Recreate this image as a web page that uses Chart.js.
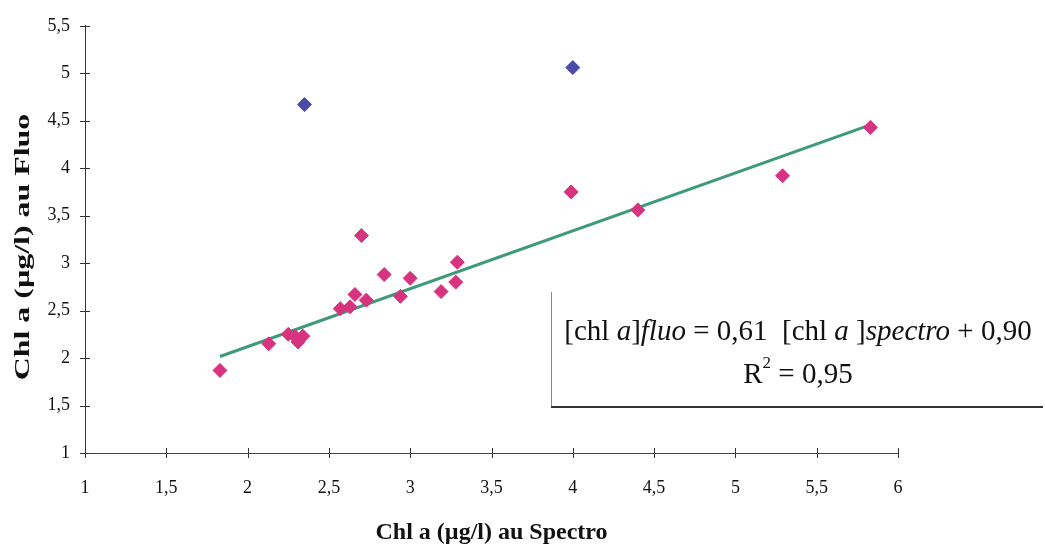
<!DOCTYPE html>
<html>
<head>
<meta charset="utf-8">
<script src="https://cdn.jsdelivr.net/npm/chart.js@4.4.1/dist/chart.umd.min.js"></script>
<style>
  html, body { margin: 0; padding: 0; background: #fff; }
  #wrap { width: 1045px; height: 551px; }
</style>
</head>
<body>
<div id="wrap"><canvas id="myChart" width="1045" height="551"></canvas></div>
<script>
// Chl a measured by spectrophotometry (x) vs fluorimetry (y)
let spectroX = [1.83, 2.13, 2.25, 2.29, 2.31, 2.34, 2.70, 2.84, 2.66, 2.73, 2.63, 2.57, 2.94, 3.00, 3.19, 3.28, 3.29, 3.99, 4.40, 5.29, 5.83];
let fluoY    = [1.87, 2.15, 2.25, 2.23, 2.17, 2.23, 3.29, 2.88, 2.67, 2.61, 2.54, 2.52, 2.65, 2.84, 2.70, 2.80, 3.01, 3.75, 3.56, 3.92, 4.43];
// two samples left out of the regression
let outlierX = [2.35, 4.00];
let outlierY = [4.67, 5.06];
// fit: [chl a]fluo = 0,61 [chl a]spectro + 0,90
let slope = 0.61;
let intercept = 0.90;
let rSquared = 0.95;
let fitRange = [1.83, 5.83];
let xTicks = [1, 1.5, 2, 2.5, 3, 3.5, 4, 4.5, 5, 5.5, 6];
let yTicks = [1, 1.5, 2, 2.5, 3, 3.5, 4, 4.5, 5, 5.5];

const pts = (xs, ys) => xs.map((x, i) => ({x: x, y: ys[i]}));
const fmt = v => String(v).replace('.', ',');
const serif = '"Liberation Serif", "DejaVu Serif", serif';

// crossing tick marks, stretched y title, equation box
const extras = {
  id: 'extras',
  afterDraw(chart) {
    const ctx = chart.ctx;
    const xs = chart.scales.x, ys = chart.scales.y;
    const a = chart.chartArea;
    ctx.save();
    ctx.strokeStyle = '#333';
    ctx.lineWidth = 1;
    xTicks.forEach(v => {
      const px = Math.round(xs.getPixelForValue(v)) + 0.5;
      ctx.beginPath(); ctx.moveTo(px, a.bottom - 5); ctx.lineTo(px, a.bottom + 5); ctx.stroke();
    });
    yTicks.forEach(v => {
      const py = Math.round(ys.getPixelForValue(v)) + 0.5;
      ctx.beginPath(); ctx.moveTo(a.left - 5, py); ctx.lineTo(a.left + 5, py); ctx.stroke();
    });

    // y axis title
    ctx.save();
    ctx.translate(23, 247);
    ctx.rotate(-Math.PI / 2);
    ctx.scale(1.45, 1);
    ctx.font = 'bold 22px ' + serif;
    ctx.fillStyle = '#111';
    ctx.textAlign = 'center';
    ctx.textBaseline = 'middle';
    ctx.fillText('Chl a (µg/l) au Fluo', 0, 0);
    ctx.restore();

    // equation box
    const bx = 551, by = 292, bw = 492, bh = 115;
    ctx.fillStyle = '#fff';
    ctx.fillRect(bx, by, bw, bh);
    ctx.strokeStyle = '#888';
    ctx.lineWidth = 1;
    ctx.beginPath();
    ctx.moveTo(bx + 0.5, by); ctx.lineTo(bx + 0.5, bh + by);
    ctx.stroke();
    ctx.strokeStyle = '#333';
    ctx.lineWidth = 2;
    ctx.beginPath();
    ctx.moveTo(bx, by + bh); ctx.lineTo(bx + bw, by + bh);
    ctx.stroke();

    const segs = [
      ['[chl ', false], ['a', true], [']', false], ['fluo', true],
      [' = ' + fmt(slope.toFixed(2)) + '  [chl ', false], ['a', true], [' ]', false],
      ['spectro', true], [' + ' + fmt(intercept.toFixed(2)), false]
    ];
    const size = 29;
    const fontOf = it => (it ? 'italic ' : '') + size + 'px ' + serif;
    let total = 0;
    segs.forEach(s => { ctx.font = fontOf(s[1]); total += ctx.measureText(s[0]).width; });
    let cx = 798 - total / 2;
    ctx.fillStyle = '#111';
    ctx.textBaseline = 'alphabetic';
    ctx.textAlign = 'left';
    segs.forEach(s => {
      ctx.font = fontOf(s[1]);
      ctx.fillText(s[0], cx, 340);
      cx += ctx.measureText(s[0]).width;
    });
    // R² line
    ctx.font = size + 'px ' + serif;
    const r1 = 'R', r2 = ' = ' + fmt(rSquared.toFixed(2));
    const w1 = ctx.measureText(r1).width, w2 = ctx.measureText(r2).width;
    ctx.font = '17px ' + serif;
    const ws = ctx.measureText('2').width;
    let sx = 798 - (w1 + ws + w2) / 2;
    ctx.font = size + 'px ' + serif;
    ctx.fillText(r1, sx, 383);
    ctx.font = '17px ' + serif;
    ctx.fillText('2', sx + w1, 368);
    ctx.font = size + 'px ' + serif;
    ctx.fillText(r2, sx + w1 + ws, 383);
    ctx.restore();
  }
};

const ctx = document.getElementById('myChart').getContext('2d');
const chart = new Chart(ctx, {
  type: 'scatter',
  data: {
    datasets: [
      {
        label: 'fit',
        type: 'line',
        data: fitRange.map(x => ({x: x, y: slope * x + intercept})),
        borderColor: '#3e9a78',
        borderWidth: 3,
        pointRadius: 0,
        fill: false,
        order: 1
      },
      {
        label: 'samples',
        data: pts(spectroX, fluoY),
        pointStyle: 'rectRot',
        pointRadius: 7,
        backgroundColor: '#d8337f',
        borderColor: '#d8337f',
        order: 0
      },
      {
        label: 'outliers',
        data: pts(outlierX, outlierY),
        pointStyle: 'rectRot',
        pointRadius: 7,
        backgroundColor: '#4c4aa8',
        borderColor: '#4c4aa8',
        order: 0
      }
    ]
  },
  options: {
    responsive: false,
    animation: false,
    layout: { padding: { left: 0, right: 147, top: 19, bottom: 0 } },
    plugins: { legend: { display: false }, tooltip: { enabled: false } },
    scales: {
      x: {
        type: 'linear',
        min: 1, max: 6,
        afterFit: s => { s.height = 98; },
        afterBuildTicks: s => { s.ticks = xTicks.map(v => ({value: v})); },
        grid: { drawOnChartArea: false, drawTicks: false },
        border: { color: '#444', width: 1 },
        ticks: {
          padding: 24,
          color: '#111',
          font: { family: serif, size: 18 },
          callback: v => fmt(v)
        },
        title: {
          display: true,
          text: 'Chl a (µg/l) au Spectro',
          color: '#111',
          font: { family: serif, size: 24, weight: 'bold' },
          padding: { top: 18 }
        }
      },
      y: {
        type: 'linear',
        min: 1, max: 5.5,
        afterFit: s => { s.width = 85; },
        afterBuildTicks: s => { s.ticks = yTicks.map(v => ({value: v})); },
        grid: { drawOnChartArea: false, drawTicks: false },
        border: { color: '#333', width: 1 },
        ticks: {
          padding: 15,
          color: '#111',
          font: { family: serif, size: 18 },
          callback: v => fmt(v)
        }
      }
    }
  },
  plugins: [extras]
});
</script>
</body>
</html>
